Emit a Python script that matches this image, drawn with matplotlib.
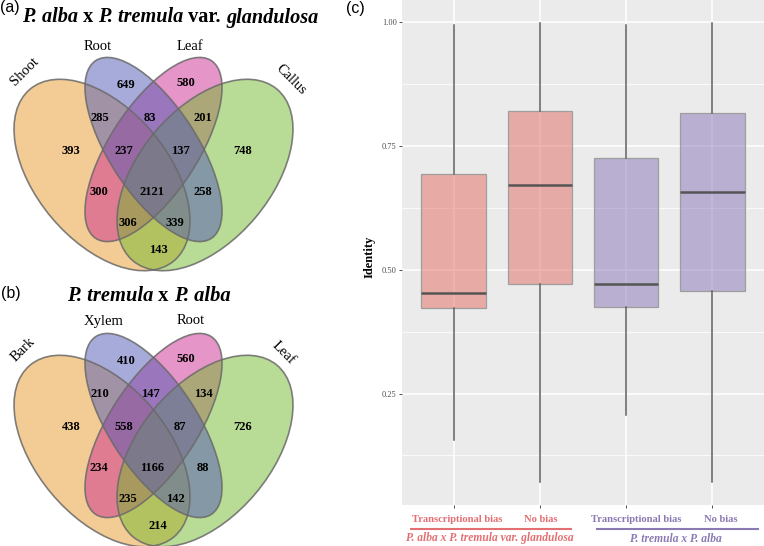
import numpy as np
import matplotlib
matplotlib.use('Agg')
import matplotlib.pyplot as plt
from matplotlib.patches import Ellipse
from matplotlib.colors import to_rgba

plt.rcParams['font.family'] = ['Liberation Serif', 'DejaVu Serif']

# ---------------- data ----------------
# venn regions: 1..4 are the sets, '12' = set1 & set2 only, etc.
regions = ['1', '2', '3', '4', '12', '23', '34', '123', '234',
           '13', '1234', '24', '134', '124', '14']

sets_a = ['Shoot', 'Root', 'Leaf', 'Callus']
counts_a = [393, 649, 580, 748, 285, 83, 201, 237, 137,
            300, 2121, 258, 306, 339, 143]

sets_b = ['Bark', 'Xylem', 'Root', 'Leaf']
counts_b = [438, 410, 560, 726, 210, 147, 134, 558, 87,
            234, 1166, 88, 235, 142, 214]

bias = ['Transcriptional bias', 'No bias', 'Transcriptional bias', 'No bias']
hybrid = ['P. alba x P. tremula var. glandulosa', 'P. tremula x P. alba']
q1 = [0.423, 0.472, 0.425, 0.457]
med = [0.454, 0.671, 0.472, 0.658]
q3 = [0.694, 0.821, 0.725, 0.817]
whislo = [0.157, 0.072, 0.207, 0.072]
whishi = [0.995, 0.999, 0.995, 0.999]

# ---------------- layout (pixels) ----------------
W, H = 764, 546
fig = plt.figure(figsize=(W / 100, H / 100), dpi=100)
ov = fig.add_axes([0, 0, 1, 1])
ov.set_xlim(0, W)
ov.set_ylim(H, 0)
ov.axis('off')

# ellipses: cx, cy, semi-major, semi-minor, angle (y down)
ell = [(102, 175, 112, 66, 50),     # set 1 orange
       (153.5, 149.5, 106, 44, 57),  # set 2 blue
       (153.5, 149.5, 106, 44, 123), # set 3 pink
       (205, 175, 112, 66, 130)]    # set 4 green
fills = ['#E99A2C', '#5159B5', '#CD2D91', '#73B92D']
draw_order = [0, 2, 3, 1]

lab_pos = {'1': (71, 151), '2': (126, 85), '3': (186, 83), '4': (243, 151),
           '12': (100, 118), '23': (150, 118), '34': (203, 118),
           '123': (124, 151), '234': (180, 151), '13': (99, 192),
           '1234': (152, 192), '24': (203, 192), '134': (128, 223),
           '124': (175, 223), '14': (158, 250)}


def draw_venn(dy, names, counts, name_pos):
    for i in draw_order:
        cx, cy, a, b, ang = ell[i]
        ov.add_patch(Ellipse((cx, cy + dy), 2 * a, 2 * b, angle=ang,
                             facecolor=to_rgba(fills[i], 0.5), edgecolor='none'))
    for i in draw_order:
        cx, cy, a, b, ang = ell[i]
        ov.add_patch(Ellipse((cx, cy + dy), 2 * a, 2 * b, angle=ang,
                             facecolor='none', edgecolor='#6A6A6A', lw=1.2, alpha=0.85))
    for r, n in zip(regions, counts):
        x, y = lab_pos[r]
        ov.text(x, y + dy, str(n), ha='center', va='center',
                fontsize=9, fontweight='bold')
    for nm, (x, y, rot) in zip(names, name_pos):
        ov.text(x, y + dy, nm, ha='center', va='center', rotation=rot,
                fontsize=10.5, rotation_mode='anchor')


def rich_text(x, y, parts, **kw):
    r = fig.canvas.get_renderer()
    txts, widths = [], []
    for s, st in parts:
        t = ov.text(0, y, s, style=st, ha='left', **kw)
        widths.append(t.get_window_extent(r).width)
        txts.append(t)
    x0 = x - sum(widths) / 2
    for t, w in zip(txts, widths):
        t.set_x(x0)
        x0 += w


draw_venn(0, sets_a, counts_a,
          [(25, 72, 45), (98, 47, 0), (190, 47, 0), (291, 80, -45)])
draw_venn(276, sets_b, counts_b,
          [(23, 74, 45), (104, 45, 0), (191, 45, 0), (283, 77, -45)])

rich_text(170, 22.5, [('P. alba', 'italic'), (' x ', 'normal'), ('P. tremula', 'italic'),
                      (' var. ', 'normal'), ('glandulosa', 'italic')],
          fontsize=14.6, fontweight='bold', va='baseline')
rich_text(148.5, 301, [('P. tremula', 'italic'), (' x ', 'normal'), ('P. alba', 'italic')],
          fontsize=14.8, fontweight='bold', va='baseline')

for s, x, y in [('(a)', 0, 0), ('(b)', 1, 286), ('(c)', 346, 1)]:
    ov.text(x, y, s, ha='left', va='top', fontsize=11.5, family='Liberation Sans')

# ---------------- box plot ----------------
ax = fig.add_axes([402 / W, (H - 504.5) / H, 362 / W, 504.5 / H])
ax.set_facecolor('#EBEBEB')
ax.set_axisbelow(True)
pos = np.arange(1, len(bias) + 1)
stats = [dict(med=m, q1=a, q3=b, whislo=lo, whishi=hi, fliers=[])
         for m, a, b, lo, hi in zip(med, q1, q3, whislo, whishi)]
bp = ax.bxp(stats, positions=pos, widths=0.75, patch_artist=True, showcaps=False,
            showfliers=False,
            whiskerprops=dict(color='#5E5E5E', lw=1.1),
            medianprops=dict(color='#555555', lw=1.8),
            boxprops=dict(lw=0.9))
pink, purple = '#E36F72', '#8A79B3'
box_cols = ['#E76B5F', '#E36B63', '#8775B9', '#8775B9']
for p, c in zip(bp['boxes'], box_cols):
    p.set_facecolor(to_rgba(c, 0.5))
    p.set_edgecolor('#9E9E9E')

lo, hi = min(whislo), max(whishi)
pad = 0.05 * (hi - lo)
ax.set_ylim(lo - pad, hi + pad)
ax.set_xlim(0.4, len(bias) + 0.6)
ax.set_yticks([0.25, 0.5, 0.75, 1.0])
ax.set_yticklabels(['%.2f' % v for v in [0.25, 0.5, 0.75, 1.0]])
ax.set_yticks([0.125, 0.375, 0.625, 0.875], minor=True)
ax.set_xticks(pos)
ax.set_xticklabels([''] * len(pos))
ax.grid(which='major', color='white', lw=1.1)
ax.grid(which='minor', axis='y', color='white', lw=0.55)
ax.tick_params(which='major', length=2.2, width=0.6, color='#333333',
               labelsize=6, labelcolor='#4D4D4D', pad=1.5)
ax.tick_params(which='minor', length=0)
for sp in ax.spines.values():
    sp.set_visible(False)
ax.set_ylabel('Identity', fontsize=9, fontweight='bold')
ax.yaxis.set_label_coords(-0.072, 0.49)

# group labels under the box plot
lab_x = [457, 541, 636, 721]
lab_c = [pink, pink, purple, purple]
for s, x, c in zip(bias, lab_x, lab_c):
    ov.text(x, 519.5, s, ha='center', va='center', fontsize=7.6,
            fontweight='bold', color=c)
ov.plot([410, 572], [529, 529], color=pink, lw=1.5, solid_capstyle='butt')
ov.plot([596, 759], [529, 529], color=purple, lw=1.5, solid_capstyle='butt')
for s, x, c in zip(hybrid, [490, 676], [pink, purple]):
    ov.text(x, 538.5, s, ha='center', va='center', fontsize=8.3,
            fontweight='bold', style='italic', color=c)

fig.savefig('out.png', dpi=100)
